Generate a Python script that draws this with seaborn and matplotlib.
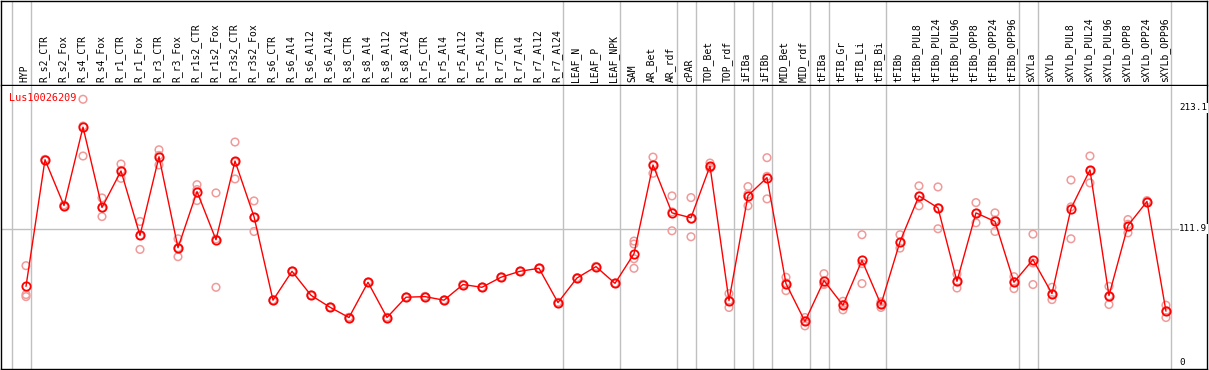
import matplotlib
matplotlib.use("Agg")
import matplotlib.pyplot as plt
import matplotlib.transforms as mtransforms
import numpy as np
import pandas as pd
import seaborn as sns

categories = ["HYP", "R_s2_CTR", "R_s2_Fox", "R_s4_CTR", "R_s4_Fox", "R_r1_CTR", "R_r1_Fox",
              "R_r3_CTR", "R_r3_Fox", "R_r1s2_CTR", "R_r1s2_Fox", "R_r3s2_CTR", "R_r3s2_Fox",
              "R_s6_CTR", "R_s6_Al4", "R_s6_Al12", "R_s6_Al24", "R_s8_CTR", "R_s8_Al4",
              "R_s8_Al12", "R_s8_Al24", "R_r5_CTR", "R_r5_Al4", "R_r5_Al12", "R_r5_Al24",
              "R_r7_CTR", "R_r7_Al4", "R_r7_Al12", "R_r7_Al24", "LEAF_N", "LEAF_P", "LEAF_NPK",
              "SAM", "AR_Bet", "AR_rdf", "cPAR", "TOP_Bet", "TOP_rdf", "iFIBa", "iFIBb",
              "MID_Bet", "MID_rdf", "tFIBa", "tFIB_Gr", "tFIB_Li", "tFIB_Bi", "tFIBb",
              "tFIBb_PUL8", "tFIBb_PUL24", "tFIBb_PUL96", "tFIBb_OPP8", "tFIBb_OPP24",
              "tFIBb_OPP96", "sXYLa", "sXYLb", "sXYLb_PUL8", "sXYLb_PUL24", "sXYLb_PUL96",
              "sXYLb_OPP8", "sXYLb_OPP24", "sXYLb_OPP96"]

mean_values = [63.7, 169.7, 131.3, 197.0, 129.7, 160.3, 106.3, 172.2, 96.0, 143.0, 102.7,
               168.6, 122.1, 52.1, 76.3, 56.2, 46.2, 37.6, 67.1, 37.6, 54.6, 55.1, 52.1,
               65.2, 62.9, 71.3, 76.3, 78.8, 50.1, 70.7, 80.2, 66.2, 91.0, 165.3, 125.2,
               121.1, 164.4, 51.8, 139.7, 154.7, 66.0, 34.3, 68.5, 47.9, 85.4, 48.5, 101.0,
               139.4, 129.4, 67.9, 125.2, 118.0, 67.1, 86.0, 57.6, 128.8, 161.1, 56.0,
               114.6, 134.7, 42.9]

replicates = [
    [81.0, 56.8, 55.1], [169.5, 170.0, 169.6], [131.0, 131.8, 131.1], [220.3, 172.8, 197.9],
    [137.7, 122.1, 129.3], [166.1, 154.1, 160.7], [118.0, 94.6, 106.3], [178.0, 165.3, 173.3],
    [103.5, 88.5, 96.0], [148.8, 135.5, 144.7], [141.9, 62.9, 103.3], [184.5, 153.6, 167.7],
    [135.2, 109.6, 121.5], [52.0, 52.3, 52.0], [76.2, 76.5, 76.2], [56.1, 56.4, 56.1],
    [46.1, 46.4, 46.1], [37.5, 37.8, 37.5], [67.0, 67.3, 67.0], [37.5, 37.8, 37.5],
    [54.5, 54.8, 54.5], [55.0, 55.3, 55.0], [52.0, 52.3, 52.0], [65.1, 65.4, 65.1],
    [62.8, 63.1, 62.8], [71.2, 71.5, 71.2], [76.2, 76.5, 76.2], [78.7, 79.0, 78.7],
    [50.0, 50.3, 50.0], [70.6, 70.9, 70.6], [80.1, 80.4, 80.1], [66.1, 66.4, 66.1],
    [101.6, 99.1, 86.8, 78.8], [171.9, 158.3, 165.7], [139.4, 110.2, 126.0],
    [138.0, 105.2, 120.1], [166.9, 162.5, 163.8], [57.6, 46.0, 51.8], [147.2, 131.1, 140.8],
    [171.4, 136.9, 155.8], [71.3, 60.1, 66.6], [37.6, 30.6, 34.7], [74.3, 65.2, 66.0],
    [51.2, 44.0, 48.5], [106.9, 66.0, 82.7], [50.7, 46.0, 48.8], [106.9, 95.7, 100.4],
    [147.8, 131.1, 139.3], [146.9, 111.9, 129.4], [74.0, 62.3, 67.4], [133.8, 116.9, 124.9],
    [125.2, 109.6, 119.2], [71.8, 61.8, 67.7], [107.4, 65.2, 83.2], [62.9, 52.6, 57.3],
    [152.7, 103.5, 130.2], [172.8, 150.3, 160.2], [63.7, 48.5, 55.8], [119.6, 108.5, 115.7],
    [135.5, 134.0, 134.6], [47.9, 37.6, 43.2]]

group_breaks = [-1, 0, 28, 31, 34, 35, 37, 38, 39, 41, 42, 45, 52, 53, 60]
axis_labels = ["213.1", "111.9", "0"]
axis_values = [213.1, 111.9, 0.0]
gene_name = "Lus10026209"

W, H, DPI = 1209, 370, 100
fig = plt.figure(figsize=(W / DPI, H / DPI), dpi=DPI)
sns.set_style("white")
plt.rcParams["font.family"] = ["DejaVu Sans Mono", "DejaVu Sans"]

xpos = np.arange(len(categories))
xlim = (-1.316, 62.16)

hx = fig.add_axes([1 / W, 1 - 85 / H, 1206 / W, 85 / H - 0.5 / H])
main = fig.add_axes([1 / W, 1 / H, 1206 / W, (369 - 85) / H - 1 / H])

for ax in (hx, main):
    ax.set_xlim(*xlim)
    ax.set_xticks([])
    ax.set_yticks([])
    for s in ax.spines.values():
        s.set_color("black")
        s.set_linewidth(1.0)
    ax.set_facecolor("white")
    for b in group_breaks:
        ax.axvline(b + 0.25, color="#c0c0c0", lw=1, zorder=0)
main.spines["top"].set_visible(False)

hx.set_ylim(0, 1)
trans = mtransforms.blended_transform_factory(hx.transData, hx.transAxes)
for xi, lab in zip(xpos, categories):
    hx.text(xi - 0.08, 3 / 85, lab, rotation=90, ha="center", va="bottom",
            fontsize=7, color="black", transform=trans,
            family=["DejaVu Sans Mono", "DejaVu Sans"])

main.set_ylim(-5.5, 231.4)
main.axhline(111.9, color="#c0c0c0", lw=1, zorder=0)

rep_df = pd.DataFrame(
    [(xi, v) for xi, reps in zip(xpos, replicates) for v in reps],
    columns=["x", "value"])
sns.scatterplot(data=rep_df, x="x", y="value", ax=main, marker="o", s=30,
                facecolors="none", edgecolor="#f09a9a", linewidth=1.1, zorder=2)

mean_df = pd.DataFrame({"x": xpos, "value": mean_values})
sns.lineplot(data=mean_df, x="x", y="value", ax=main, color="red", lw=1, sort=False,
             marker="o", markersize=6, markerfacecolor="none", markeredgecolor="red",
             markeredgewidth=1.3, zorder=3)
main.set_xlim(*xlim)
main.set_xlabel("")
main.set_ylabel("")
main.set_xticks([])
main.set_yticks([])

for lab, v in zip(axis_labels, axis_values):
    main.text(60.7, v, lab, ha="left", va="center", fontsize=6.7, color="black",
              family=["DejaVu Sans Mono", "DejaVu Sans"],
              bbox=dict(facecolor="white", edgecolor="none", pad=0.2))

main.text(8 / 1206, 1 - 12 / 284, gene_name, transform=main.transAxes, ha="left",
          va="center", fontsize=7.3, color="red",
          family=["DejaVu Sans Mono", "DejaVu Sans"])

fig.savefig("out.png", dpi=DPI)
